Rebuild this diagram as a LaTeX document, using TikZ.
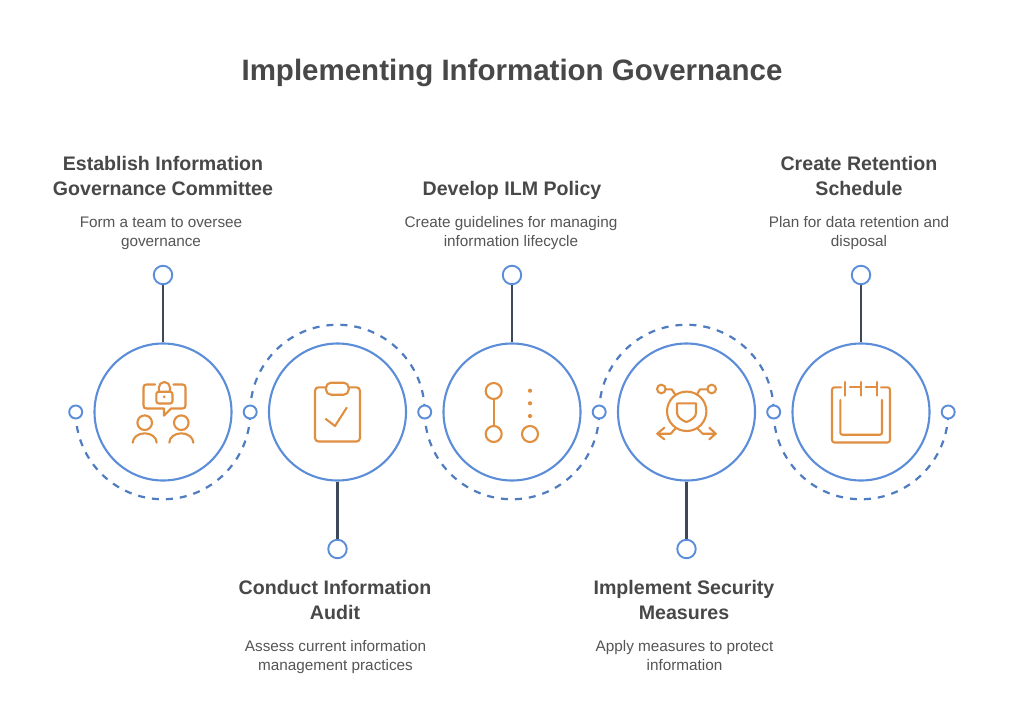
\documentclass[tikz,border=0pt]{standalone}
\usepackage{fontspec}
\setmainfont{Liberation Sans}
\usetikzlibrary{backgrounds}
\definecolor{bluec}{HTML}{5B8DD9}
\definecolor{dashc}{HTML}{4F7CC0}
\definecolor{darkc}{HTML}{3D4858}
\definecolor{orangec}{HTML}{E08E3F}
\definecolor{textc}{HTML}{484848}
\definecolor{bodyc}{HTML}{555555}
\tikzset{
  bigring/.style={circle,draw=bluec,line width=2.1pt,fill=white,minimum size=137pt,inner sep=0pt},
  smallring/.style={circle,draw=bluec,line width=1.9pt,fill=white,minimum size=13pt,inner sep=0pt},
  endring/.style={circle,draw=bluec,line width=1.9pt,fill=white,minimum size=18.5pt,inner sep=0pt},
  stem/.style={draw=darkc,line width=2.1pt},
  dasharc/.style={draw=dashc,line width=2.2pt,dash pattern=on 7pt off 7pt},
  icon/.style={draw=orangec,line width=2.1pt,line cap=round,line join=round},
  dotfill/.style={fill=orangec,draw=none},
  titletext/.style={font=\bfseries\fontsize{29.5}{36}\selectfont,text=textc,align=center},
  headtext/.style={font=\bfseries\fontsize{19.6}{25}\selectfont,text=textc,align=center},
  bodytext/.style={font=\fontsize{15.3}{19}\selectfont,text=bodyc,align=center}
}
\begin{document}
\begin{tikzpicture}[x=1pt,y=-1pt]
\useasboundingbox (0,0) rectangle (1024,725);
% big circles
\node[bigring] (c1) at (163,412) {};
\node[bigring] (c2) at (337.5,412) {};
\node[bigring] (c3) at (512,412) {};
\node[bigring] (c4) at (686.5,412) {};
\node[bigring] (c5) at (861,412) {};
% junction rings
\node[smallring] (j0) at (75.7,412) {};
\node[smallring] (j1) at (250.2,412) {};
\node[smallring] (j2) at (424.7,412) {};
\node[smallring] (j3) at (599.2,412) {};
\node[smallring] (j4) at (773.7,412) {};
\node[smallring] (j5) at (948.2,412) {};
% end rings
\node[endring] (e1) at (163,275) {};
\node[endring] (e2) at (337.5,549) {};
\node[endring] (e3) at (512,275) {};
\node[endring] (e4) at (686.5,549) {};
\node[endring] (e5) at (861,275) {};
% stems
\draw[stem] (e1) -- (c1);
\draw[stem] (e2) -- (c2);
\draw[stem] (e3) -- (c3);
\draw[stem] (e4) -- (c4);
\draw[stem] (e5) -- (c5);
% dashed arcs
\begin{scope}[on background layer]
\fill[white] (0,0) rectangle (1024,725);
\draw[dasharc] (j0.center) arc[start angle=180,end angle=0,radius=87.25];
\draw[dasharc] (j1.center) arc[start angle=180,end angle=360,radius=87.25];
\draw[dasharc] (j2.center) arc[start angle=180,end angle=0,radius=87.25];
\draw[dasharc] (j3.center) arc[start angle=180,end angle=360,radius=87.25];
\draw[dasharc] (j4.center) arc[start angle=180,end angle=0,radius=87.25];
\end{scope}
% icon 1
\draw[icon] (155,384.5) -- (146.5,384.5) .. controls (144.5,384.5) and (143.5,385.5) .. (143.5,387.5) -- (143.5,405.5) .. controls (143.5,407.5) and (144.5,408.5) .. (146.5,408.5) -- (164,408.5) -- (164,415.7) -- (171,408.5) -- (182.5,408.5) .. controls (184.5,408.5) and (185.5,407.5) .. (185.5,405.5) -- (185.5,387.5) .. controls (185.5,385.5) and (184.5,384.5) .. (182.5,384.5) -- (173.5,384.5);
\draw[icon,rounded corners=2.5pt] (156.3,391.7) rectangle (172.5,403.5);
\draw[icon] (158.8,391.7) -- (158.8,387.6) arc[start angle=180,end angle=360,radius=5.6] -- (170,391.7);
\fill[dotfill] (164.2,396.8) circle[radius=1.5];
\draw[icon] (144.7,422.7) circle[radius=7.3];
\draw[icon] (181.3,422.7) circle[radius=7.3];
\draw[icon] (132.7,442.7) arc[start angle=180,end angle=360,x radius=12,y radius=9.4];
\draw[icon] (169.3,442.7) arc[start angle=180,end angle=360,x radius=12,y radius=9.4];
% icon 2
\draw[icon,rounded corners=3.5pt] (326,387.3) -- (315,387.3) -- (315,441.5) -- (360,441.5) -- (360,387.3) -- (348.7,387.3);
\draw[icon,rounded corners=5pt] (326,382.7) rectangle (348.7,394.7);
\draw[icon] (325.7,419) -- (335,426) -- (346.7,407.7);
% icon 3
\draw[icon] (493.7,391) circle[radius=8];
\draw[icon] (493.7,434) circle[radius=8];
\draw[icon] (530,434) circle[radius=8];
\draw[icon] (493.7,399) -- (493.7,426);
\fill[dotfill] (530,390.7) circle[radius=2.1];
\fill[dotfill] (530,403.3) circle[radius=2.1];
\fill[dotfill] (530,416) circle[radius=2.1];
% icon 4
\draw[icon] (686.7,411.3) circle[radius=19.7];
\draw[icon] (677,403.3) -- (696,403.3) -- (696,413) .. controls (696,417) and (691,420.5) .. (686.4,422) .. controls (682,420.5) and (677,417) .. (677,413) -- cycle;
\draw[icon] (661.3,389) circle[radius=4.3];
\draw[icon] (711.7,389) circle[radius=4.3];
\draw[icon] (665.7,389.3) -- (671.7,389.3) -- (675.3,394.7);
\draw[icon] (707.3,389.3) -- (700,389.3) -- (696.7,394.7);
\draw[icon] (675.7,428.3) -- (670.7,433.7) -- (657.3,433.7);
\draw[icon] (664.3,427.7) -- (657.3,433.7) -- (664.3,439.3);
\draw[icon] (697.3,428.3) -- (702.7,433.7) -- (715.7,433.7);
\draw[icon] (709.3,427.7) -- (715.7,433.7) -- (709.3,439.3);
% icon 5
\draw[icon,rounded corners=2.5pt] (841,387.3) -- (832,387.3) -- (832,442.5) -- (890,442.5) -- (890,387.3) -- (881,387.3);
\draw[icon,rounded corners=2pt] (840.3,400) -- (840.3,434.7) -- (882,434.7) -- (882,400);
\draw[icon] (845.3,382) -- (845.3,395.7);
\draw[icon] (860.7,382) -- (860.7,395.7);
\draw[icon] (876.7,382) -- (876.7,395.7);
\draw[icon] (850,387.3) -- (860.7,387.3);
\draw[icon] (865.7,387.3) -- (876.7,387.3);
% texts
\node[titletext] (title) at (512,72.5) {Implementing Information Governance};
\node[headtext] (h1) at (163,175.5) {Establish Information\\Governance Committee};
\node[bodytext] (b1) at (161,233.2) {Form a team to oversee\\governance};
\node[headtext] (h3) at (512,190) {Develop ILM Policy};
\node[bodytext] (b3) at (511,233.2) {Create guidelines for managing\\information lifecycle};
\node[headtext] (h5) at (859,175.5) {Create Retention\\Schedule};
\node[bodytext] (b5) at (859,233.2) {Plan for data retention and\\disposal};
\node[headtext] (h2) at (335,599.5) {Conduct Information\\Audit};
\node[bodytext] (b2) at (335.5,656.7) {Assess current information\\management practices};
\node[headtext] (h4) at (684,599.5) {Implement Security\\Measures};
\node[bodytext] (b4) at (684.5,655.5) {Apply measures to protect\\information};
\end{tikzpicture}
\end{document}
